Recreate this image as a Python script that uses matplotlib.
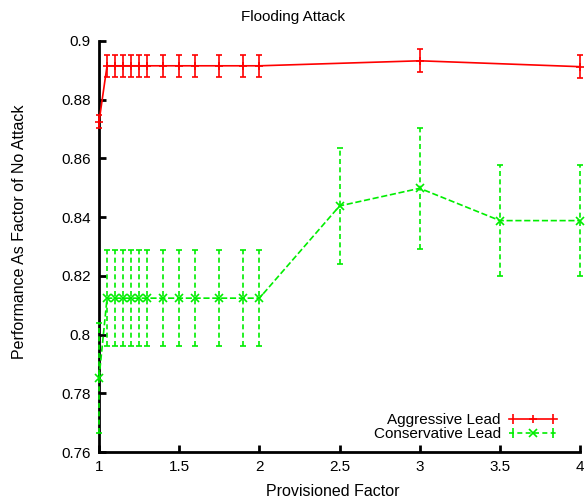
import matplotlib
matplotlib.use('Agg')
import matplotlib.pyplot as plt
from matplotlib.lines import Line2D
from matplotlib.legend_handler import HandlerLine2D
import numpy as np

plt.rcParams['font.family'] = ['Liberation Sans', 'DejaVu Sans']

x = [1.0, 1.05, 1.1, 1.15, 1.2, 1.25, 1.3, 1.4, 1.5, 1.6, 1.75, 1.9, 2.0, 3.0, 4.0]
aggr = [0.8725, 0.8915, 0.8915, 0.8915, 0.8915, 0.8915, 0.8915, 0.8915, 0.8915,
        0.8915, 0.8915, 0.8915, 0.8915, 0.8932, 0.8912]
aggr_err = [0.0023, 0.0037, 0.0037, 0.0037, 0.0037, 0.0037, 0.0037, 0.0037, 0.0037,
            0.0037, 0.0037, 0.0037, 0.0037, 0.0039, 0.0039]

x2 = [1.0, 1.05, 1.1, 1.15, 1.2, 1.25, 1.3, 1.4, 1.5, 1.6, 1.75, 1.9, 2.0, 2.5, 3.0, 3.5, 4.0]
cons = [0.7852, 0.8124, 0.8124, 0.8124, 0.8124, 0.8124, 0.8124, 0.8124, 0.8124,
        0.8124, 0.8124, 0.8124, 0.8124, 0.8438, 0.8498, 0.8388, 0.8388]
cons_err = [0.0188, 0.0163, 0.0163, 0.0163, 0.0163, 0.0163, 0.0163, 0.0163, 0.0163,
            0.0163, 0.0163, 0.0163, 0.0163, 0.0197, 0.0205, 0.019, 0.019]

red = '#ff0000'
green = '#00ee00'

fig = plt.figure(figsize=(5.86, 5.04), dpi=100)
ax = fig.add_axes([0.169, 0.103, 0.821, 0.816])

eb1 = ax.errorbar(x, aggr, yerr=aggr_err, color=red, lw=1.2, marker='+',
                  ms=6, mew=1.2, capsize=2.5, elinewidth=1.2, capthick=1.2,
                  clip_on=False, zorder=3)
eb2 = ax.errorbar(x2, cons, yerr=cons_err, color=green, lw=1.2, ls='--',
                  marker='x', ms=6, mew=1.2, capsize=2.5, elinewidth=1.2,
                  capthick=1.2, clip_on=False, zorder=3)
eb2[2][0].set_linestyle((0, (3, 2)))
for art in list(eb1[1]) + list(eb1[2]) + list(eb2[1]) + list(eb2[2]):
    art.set_clip_on(False)

ax.set_xlim(1, 4)
ax.set_ylim(0.76, 0.9)
ax.set_xticks([1, 1.5, 2, 2.5, 3, 3.5, 4])
ax.set_xticklabels(['1', '1.5', '2', '2.5', '3', '3.5', '4'])
ax.set_yticks([0.76, 0.78, 0.8, 0.82, 0.84, 0.86, 0.88, 0.9])
ax.set_yticklabels(['0.76', '0.78', '0.8', '0.82', '0.84', '0.86', '0.88', '0.9'])

ax.spines['top'].set_visible(False)
ax.spines['right'].set_visible(False)
ax.spines['left'].set_linewidth(2)
ax.spines['bottom'].set_linewidth(2)
ax.tick_params(direction='in', length=5, width=2, labelsize=11, pad=6)

fig.text(0.5, 0.966, 'Flooding Attack', ha='center', va='center', fontsize=11)
fig.text(0.568, 0.024, 'Provisioned Factor', ha='center', va='center', fontsize=11.5)
fig.text(0.033, 0.54, 'Performance As Factor of No Attack', ha='center', va='center',
         rotation=90, fontsize=11.5)

# legend samples drawn gnuplot style: line with end caps and a center marker
h1 = Line2D([], [], color=red, lw=1.2, marker='+', ms=6, mew=1.2)
c1 = Line2D([], [], color=red, ls='none', marker='|', ms=7, mew=1.2)
h2 = Line2D([], [], color=green, lw=1.2, ls=(0, (3, 2)), marker='x', ms=6, mew=1.2)
c2 = Line2D([], [], color=green, ls='none', marker='|', ms=7, mew=1.2)
ax.legend([(h1, c1), (h2, c2)], ['Aggressive Lead', 'Conservative Lead'],
          loc='lower right', frameon=False, markerfirst=False, fontsize=11,
          handlelength=3.2, labelspacing=0.0, borderaxespad=0.3,
          handletextpad=0.5, bbox_to_anchor=(0.975, 0.0),
          handler_map={c1: HandlerLine2D(numpoints=2), c2: HandlerLine2D(numpoints=2)})

fig.savefig('out.png', dpi=100)
